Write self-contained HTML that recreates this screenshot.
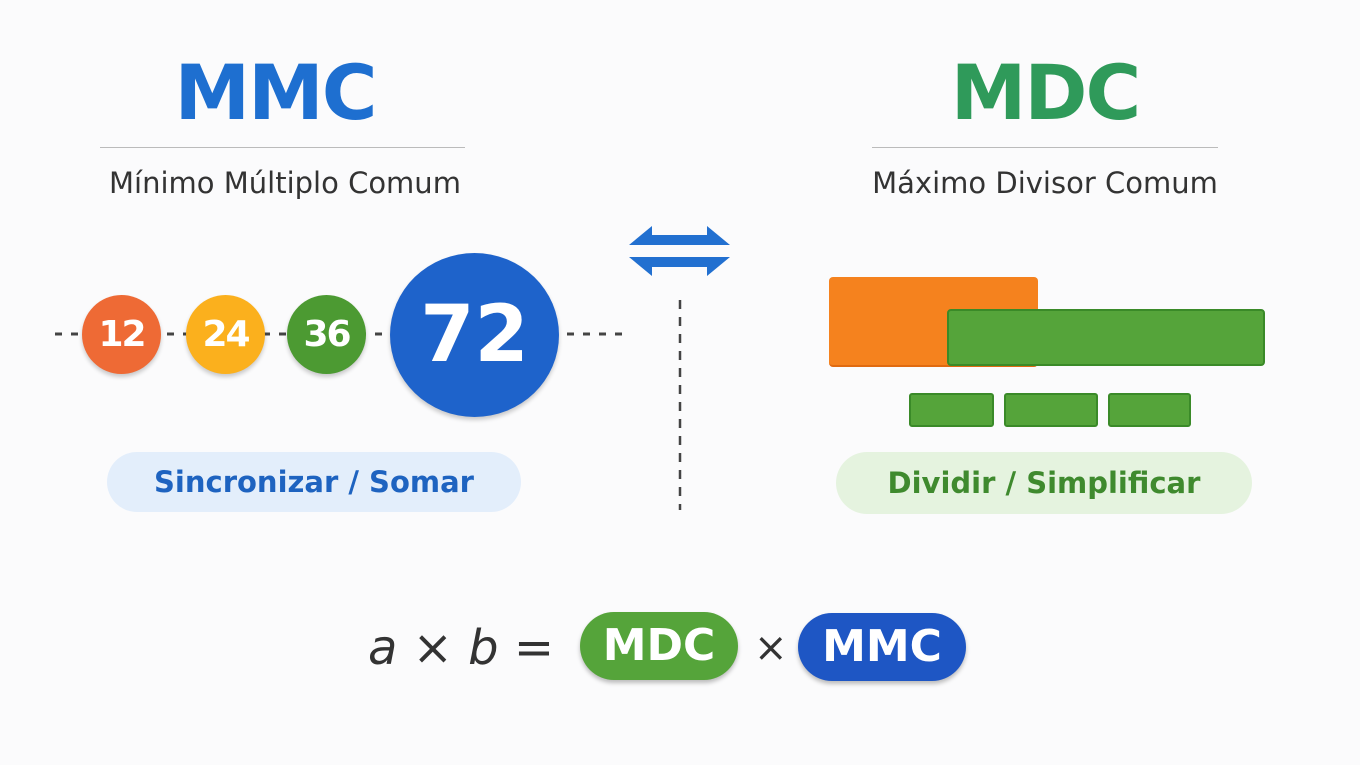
<!DOCTYPE html>
<html><head><meta charset="utf-8"><style>
body{margin:0;width:1360px;height:765px;background:#fbfbfc;overflow:hidden;font-family:"DejaVu Sans","Liberation Sans",sans-serif;position:relative}
.a{position:absolute}
.t{position:absolute;text-align:center;white-space:nowrap}
.c{position:absolute;border-radius:50%;color:#fff;font-weight:bold;display:flex;align-items:center;justify-content:center;box-shadow:0 3px 4px rgba(0,0,0,.2)}
</style></head><body>
<div class="t" style="left:100px;width:350px;top:48px;font-size:76px;font-weight:bold;color:#1e6fd0;line-height:90px;letter-spacing:-2px">MMC</div>
<div class="a" style="left:100px;top:147px;width:365px;height:1px;background:#bbb"></div>
<div class="t" style="left:100px;width:370px;top:166px;font-size:29px;color:#333">Mínimo Múltiplo Comum</div>
<div class="t" style="left:870px;width:350px;top:48px;font-size:76px;font-weight:bold;color:#2f9a5a;line-height:90px;letter-spacing:-2px">MDC</div>
<div class="a" style="left:872px;top:147px;width:346px;height:1px;background:#bbb"></div>
<div class="t" style="left:860px;width:370px;top:166px;font-size:29px;color:#333">Máximo Divisor Comum</div>

<svg class="a" style="left:0;top:0" width="1360" height="765">
<line x1="55" y1="334" x2="625" y2="334" stroke="#444" stroke-width="3" stroke-dasharray="7,9"/>
<line x1="680" y1="300" x2="680" y2="510" stroke="#444" stroke-width="2.5" stroke-dasharray="9,8"/>
<polygon points="629,245 652,226 652,235 707,235 707,226 730,245" fill="#2270d0"/>
<polygon points="629,257 652,276 652,267 707,267 707,276 730,257" fill="#2270d0"/>
</svg>

<div class="c" style="left:82px;top:295px;width:79px;height:79px;background:#ee6a35;font-size:36px;letter-spacing:-2px">12</div>
<div class="c" style="left:186px;top:295px;width:79px;height:79px;background:#fbb01d;font-size:36px;letter-spacing:-2px">24</div>
<div class="c" style="left:287px;top:295px;width:79px;height:79px;background:#4c9a32;font-size:36px;letter-spacing:-2px">36</div>
<div class="c" style="left:390px;top:253px;width:169px;height:164px;background:#1e63cb;font-size:78px">72</div>

<div class="a" style="left:829px;top:277px;width:209px;height:88px;background:#f5821e;border-radius:4px;border-bottom:2px solid #e06a10"></div>
<div class="a" style="left:947px;top:309px;width:318px;height:57px;background:#55a43a;border:2px solid #3a8a28;border-radius:4px;box-sizing:border-box"></div>
<div class="a" style="left:909px;top:393px;width:85px;height:34px;background:#55a43a;border:2px solid #3a8a28;border-radius:3px;box-sizing:border-box"></div>
<div class="a" style="left:1004px;top:393px;width:94px;height:34px;background:#55a43a;border:2px solid #3a8a28;border-radius:3px;box-sizing:border-box"></div>
<div class="a" style="left:1108px;top:393px;width:83px;height:34px;background:#55a43a;border:2px solid #3a8a28;border-radius:3px;box-sizing:border-box"></div>

<div class="t" style="left:107px;top:452px;width:414px;height:60px;line-height:60px;border-radius:30px;background:#e3eefb;color:#1e63c0;font-size:29px;font-weight:bold">Sincronizar / Somar</div>
<div class="t" style="left:836px;top:452px;width:416px;height:62px;line-height:62px;border-radius:31px;background:#e5f3df;color:#3f8a2e;font-size:29px;font-weight:bold">Dividir / Simplificar</div>

<div class="t" style="left:368px;top:618px;font-size:48px;color:#333;line-height:60px"><i>a</i> × <i>b</i> =</div>
<div class="t" style="left:580px;top:612px;width:158px;height:68px;line-height:68px;border-radius:34px;background:#55a43a;color:#fff;font-size:44px;font-weight:bold;box-shadow:0 3px 4px rgba(0,0,0,.25)">MDC</div>
<div class="t" style="left:754px;top:620px;font-size:40px;color:#333;line-height:56px">×</div>
<div class="t" style="left:798px;top:613px;width:168px;height:68px;line-height:68px;border-radius:34px;background:#1e56c4;color:#fff;font-size:44px;font-weight:bold;box-shadow:0 3px 4px rgba(0,0,0,.25)">MMC</div>
</body></html>
